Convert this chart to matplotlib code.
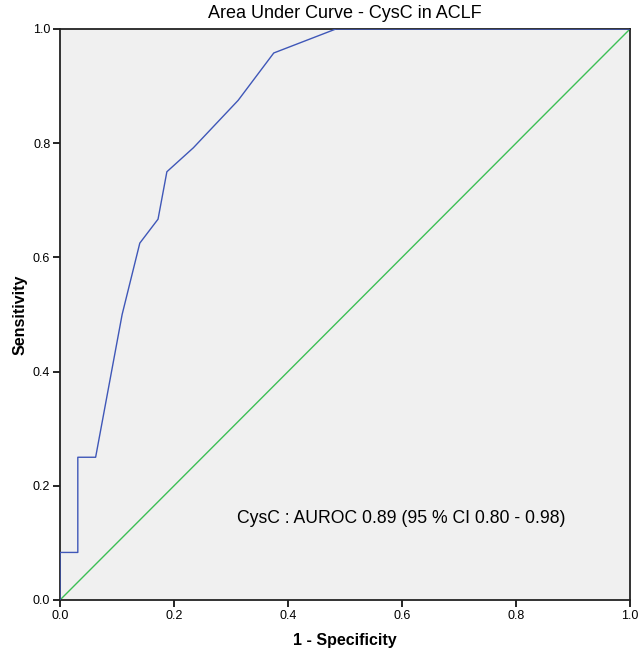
import matplotlib
matplotlib.use("Agg")
import matplotlib.pyplot as plt

plt.rcParams['font.family'] = ['Liberation Sans', 'DejaVu Sans']

fpr = [0.0, 0.0, 0.03125, 0.03125, 0.0625, 0.109, 0.140, 0.172, 0.1875, 0.234, 0.3125, 0.375, 0.484, 1.0]
tpr = [0.0, 0.0833, 0.0833, 0.25, 0.25, 0.5, 0.625, 0.667, 0.75, 0.792, 0.875, 0.958, 1.0, 1.0]
ref_x = [0.0, 1.0]
ref_y = [0.0, 1.0]
ticks = [0.0, 0.2, 0.4, 0.6, 0.8, 1.0]
tick_labels = ["0.0", "0.2", "0.4", "0.6", "0.8", "1.0"]

fig = plt.figure(figsize=(6.38, 6.5), dpi=100)
ax = fig.add_axes([60/638, 50/650, 570/638, 571/650])
ax.set_facecolor('#f0f0f0')
ax.plot(fpr, tpr, color='#3f57b8', lw=1.0, zorder=3)
ax.plot(ref_x, ref_y, color='#3cbf55', lw=1.0, zorder=2)
ax.set_xlim(0, 1)
ax.set_ylim(0, 1)
ax.set_xticks(ticks)
ax.set_xticklabels(tick_labels)
ax.set_yticks(ticks)
ax.set_yticklabels(tick_labels)
ax.tick_params(direction='out', length=5, width=1.2, labelsize=9, colors='black', pad=2)
for s in ax.spines.values():
    s.set_linewidth(1.3)
    s.set_color('#222222')
ax.set_title("Area Under Curve - CysC in ACLF", fontsize=13, pad=8)
ax.set_xlabel("1 - Specificity", fontsize=11.5, fontweight='bold', labelpad=8)
ax.set_ylabel("Sensitivity", fontsize=11.5, fontweight='bold', labelpad=4)
ax.text(0.31, 0.142, "CysC : AUROC 0.89 (95 % CI 0.80 - 0.98)", fontsize=12.7,
        transform=ax.transAxes, ha='left', va='center')
fig.savefig("out.png", dpi=100)
